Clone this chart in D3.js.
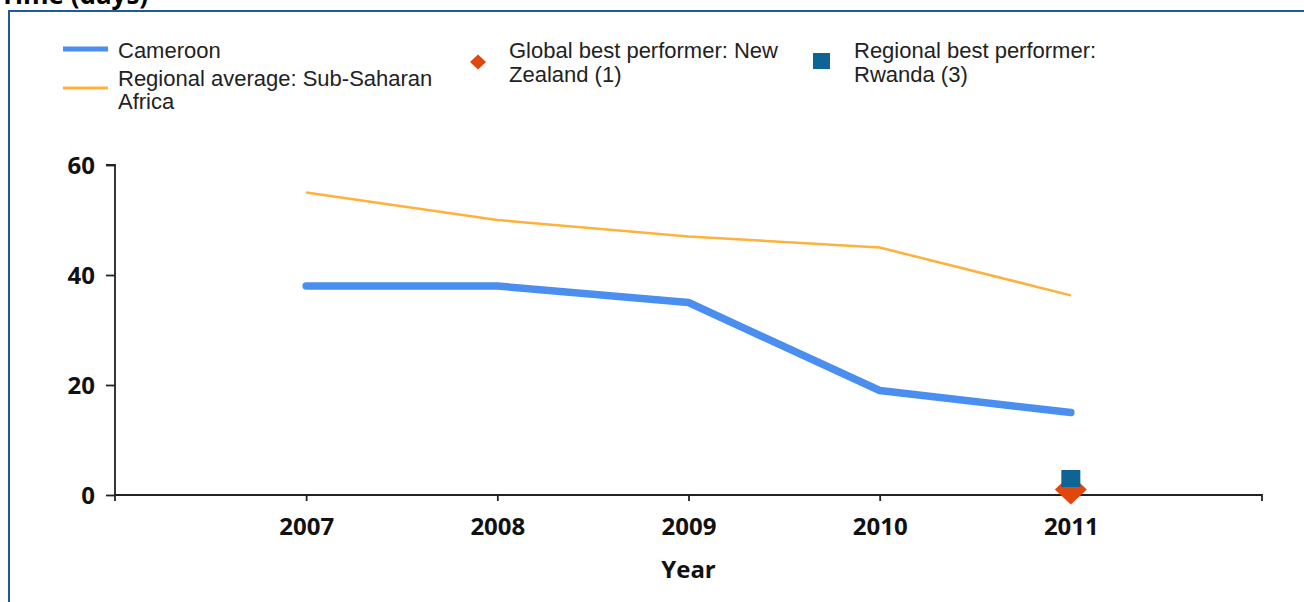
<!DOCTYPE html>
<html>
<head>
<meta charset="utf-8">
<script src="https://cdn.jsdelivr.net/npm/d3@7"></script>
<style>
  body { margin: 0; background: #fff; }
  svg { display: block; }
</style>
</head>
<body>
<svg id="chart" width="1304" height="602"></svg>
<script>
// data
var years = [2007, 2008, 2009, 2010, 2011];
var cameroon = [38, 38, 35, 19, 15];
var regionalAvg = [55, 50, 47, 45, 36.3];
var globalBest = [{ year: 2011, value: 1 }];
var regionalBest = [{ year: 2011, value: 3 }];
var yTicks = [0, 20, 40, 60];

var svg = d3.select('#chart');
var tickFont = '"Open Sans", "DejaVu Sans", sans-serif';
var legendFont = '"Liberation Sans", Arial, sans-serif';

// title, clipped by the top edge
svg.append('text')
    .attr('x', 0).attr('y', 4)
    .attr('font-family', tickFont)
    .attr('font-weight', 'bold')
    .attr('font-size', 26)
    .attr('fill', '#000')
    .text('Time (days)');

// frame
svg.append('line').attr('x1', 9).attr('x2', 1304).attr('y1', 11).attr('y2', 11)
    .attr('stroke', '#1c5aa6').attr('stroke-width', 2);
svg.append('line').attr('x1', 9).attr('x2', 9).attr('y1', 10).attr('y2', 602)
    .attr('stroke', '#1c5aa6').attr('stroke-width', 2);

var xs = d3.scaleLinear().domain([2006, 2012]).range([115, 1262]);
var ys = d3.scaleLinear().domain([0, 60]).range([495, 165]);

// axes
var yAxis = d3.axisLeft(ys).tickValues(yTicks).tickSize(9).tickPadding(11).tickFormat(d3.format('d'));
var gy = svg.append('g').attr('transform', 'translate(115,0)').call(yAxis);
gy.select('.domain').attr('d', 'M-9,' + ys(60) + 'H0V' + ys(0));

var xAxis = d3.axisBottom(xs).tickValues(years).tickSize(6).tickPadding(0).tickFormat(d3.format('d'));
var gx = svg.append('g').attr('transform', 'translate(0,495)').call(xAxis);
gx.select('.domain').attr('d', 'M' + xs(2006) + ',6V0H' + xs(2012) + 'V6');
gx.selectAll('.tick text').attr('dy', null).attr('y', 40);
gy.selectAll('.tick text').attr('dy', '0.36em');

svg.selectAll('.tick text')
    .attr('font-family', tickFont)
    .attr('font-weight', 'bold')
    .attr('font-size', 24)
    .attr('fill', '#111');
svg.selectAll('.domain, .tick line').attr('stroke', '#222').attr('stroke-width', 1.8);

svg.append('text')
    .attr('x', xs(2009)).attr('y', 578)
    .attr('text-anchor', 'middle')
    .attr('font-family', tickFont)
    .attr('font-weight', 'bold')
    .attr('font-size', 24)
    .attr('fill', '#111')
    .text('Year');

// lines
var line = d3.line()
    .x(function (d, i) { return xs(years[i]); })
    .y(function (d) { return ys(d); });

svg.append('path').datum(regionalAvg)
    .attr('d', line)
    .attr('fill', 'none')
    .attr('stroke', '#ffb13b')
    .attr('stroke-width', 2.5);

svg.append('path').datum(cameroon)
    .attr('d', line)
    .attr('fill', 'none')
    .attr('stroke', '#4a8ef0')
    .attr('stroke-width', 7.5)
    .attr('stroke-linecap', 'round')
    .attr('stroke-linejoin', 'round');

// best performer markers
function diamond(w, h) {
    return 'M0,' + (-h) + 'L' + w + ',0L0,' + h + 'L' + (-w) + ',0Z';
}

svg.selectAll('.gbest').data(globalBest).enter().append('path')
    .attr('class', 'gbest')
    .attr('d', diamond(16, 15))
    .attr('transform', function (d) { return 'translate(' + xs(d.year) + ',' + ys(d.value) + ')'; })
    .attr('fill', '#e2460f');

svg.selectAll('.rbest').data(regionalBest).enter().append('rect')
    .attr('class', 'rbest')
    .attr('x', function (d) { return xs(d.year) - 9.5; })
    .attr('y', function (d) { return ys(d.value) - 8.5; })
    .attr('width', 19).attr('height', 17)
    .attr('fill', '#0f6496');

// legend
var leg = svg.append('g')
    .attr('font-family', legendFont)
    .attr('font-size', 22)
    .attr('fill', '#222');

leg.append('line').attr('x1', 63).attr('x2', 108).attr('y1', 49).attr('y2', 49)
    .attr('stroke', '#4a8ef0').attr('stroke-width', 5);
leg.append('text').attr('x', 118).attr('y', 58).text('Cameroon');

leg.append('line').attr('x1', 63).attr('x2', 108).attr('y1', 88).attr('y2', 88)
    .attr('stroke', '#ffb13b').attr('stroke-width', 3);
leg.append('text').attr('x', 118).attr('y', 86).text('Regional average: Sub-Saharan');
leg.append('text').attr('x', 118).attr('y', 109).text('Africa');

leg.append('path')
    .attr('d', diamond(8, 7.5))
    .attr('transform', 'translate(478,62)')
    .attr('fill', '#e2460f');
leg.append('text').attr('x', 509).attr('y', 58).text('Global best performer: New');
leg.append('text').attr('x', 509).attr('y', 82).text('Zealand (1)');

leg.append('rect').attr('x', 813).attr('y', 53).attr('width', 17).attr('height', 16)
    .attr('fill', '#0f6496');
leg.append('text').attr('x', 854).attr('y', 58).text('Regional best performer:');
leg.append('text').attr('x', 854).attr('y', 82).text('Rwanda (3)');
</script>
</body>
</html>
